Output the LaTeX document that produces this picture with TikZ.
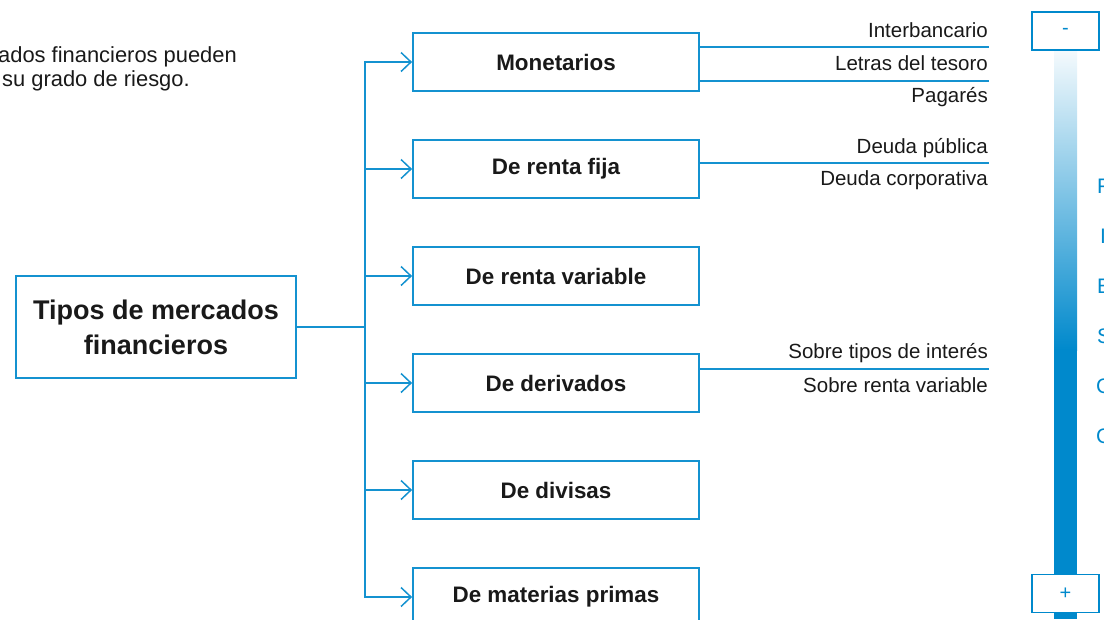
\documentclass[tikz,border=0pt]{standalone}
\usepackage{fontspec}
\setmainfont{Liberation Sans}
\usetikzlibrary{arrows.meta}
\usetikzlibrary{positioning}

\definecolor{lineblue}{RGB}{20,146,208}
\definecolor{barblue}{RGB}{0,137,204}
\definecolor{txtgray}{RGB}{25,25,25}

\begin{document}
\begin{tikzpicture}[x=1pt,y=-1pt,
    typebox/.style={draw=lineblue,line width=1.8pt,fill=white,
        minimum width=286pt,minimum height=58pt,text=txtgray,
        font=\fontsize{22.4}{26}\selectfont\bfseries},
    link/.style={draw=lineblue,line width=1.5pt},
    tolink/.style={link,-{Straight Barb[length=10pt,width=19pt]}},
    subline/.style={draw=lineblue,line width=1.3pt},
    subtext/.style={anchor=base east,inner sep=0pt,text=txtgray,
        font=\fontsize{20.5}{24}\selectfont},
    introtext/.style={anchor=base west,inner sep=0pt,text=txtgray,
        font=\fontsize{21.9}{24}\selectfont},
    scalebox/.style={draw=barblue,line width=1.8pt,fill=white,
        minimum width=67pt,minimum height=38pt,text=barblue,
        font=\fontsize{20}{24}\selectfont},
    sidetext/.style={anchor=base west,inner sep=0pt,text=barblue,
        font=\fontsize{21}{24}\selectfont}]
    \useasboundingbox (0,0) rectangle (1104,619);
    \clip (0,0) rectangle (1104,619);

    % texto de la izquierda (cortado)
    \node[introtext] (intro1) at (-2,62) {ados financieros pueden};
    \node[introtext] (intro2) at (2,86) {su grado de riesgo.};

    % nodo principal
    \node[draw=lineblue,line width=1.8pt,fill=white,minimum width=280pt,
        minimum height=102pt,align=center,text=txtgray,
        font=\fontsize{27}{35}\selectfont\bfseries] (main) at (156,327)
        {Tipos de mercados\\financieros};
    \coordinate (split) at (365,327);

    % tipos
    \node[typebox] (mon)   at (556,62)  {Monetarios};
    \node[typebox] (fija)  at (556,169) {De renta fija};
    \node[typebox] (var)   at (556,276) {De renta variable};
    \node[typebox] (deriv) at (556,383) {De derivados};
    \node[typebox] (div)   at (556,490) {De divisas};
    \node[typebox] (mat)   at (556,597) {De materias primas};

    \draw[link] (main.east) -- (split);
    \foreach \b in {mon,fija,var,deriv,div,mat}
        \draw[tolink] (split) |- (\b.west);

    % subtipos
    \coordinate (m1) at (989,47);
    \coordinate (m2) at (989,81);
    \coordinate (f1) at (989,163);
    \coordinate (d1) at (989,369);
    \draw[subline] (mon.east |- m1) -- (m1);
    \draw[subline] (mon.east |- m2) -- (m2);
    \draw[subline] (fija.east |- f1) -- (f1);
    \draw[subline] (deriv.east |- d1) -- (d1);
    \node[subtext] (inter)  at (988,37)  {Interbancario};
    \node[subtext] (letras) at (988,70)  {Letras del tesoro};
    \node[subtext] (pag)    at (988,102) {Pagarés};
    \node[subtext] (dpub)   at (988,153) {Deuda pública};
    \node[subtext] (dcorp)  at (988,185) {Deuda corporativa};
    \node[subtext] (stip)   at (988,358) {Sobre tipos de interés};
    \node[subtext] (srv)    at (988,392) {Sobre renta variable};

    % escala de riesgo
    \shade[top color=barblue!4,bottom color=barblue] (1054,50) rectangle (1077,350);
    \fill[barblue] (1054,349) rectangle (1077,619);
    \node[scalebox] (menos) at (1065.5,31)  {-};
    \node[scalebox] (mas)   at (1065.5,593.5) {+};
    \node[sidetext] (s1) at (1097,193) {F};
    \node[sidetext] (s2) at (1100,243) {I};
    \node[sidetext] (s3) at (1097,293) {E};
    \node[sidetext] (s4) at (1097,343) {S};
    \node[sidetext] (s5) at (1096,393) {C};
    \node[sidetext] (s6) at (1096,443) {C};
\end{tikzpicture}
\end{document}
